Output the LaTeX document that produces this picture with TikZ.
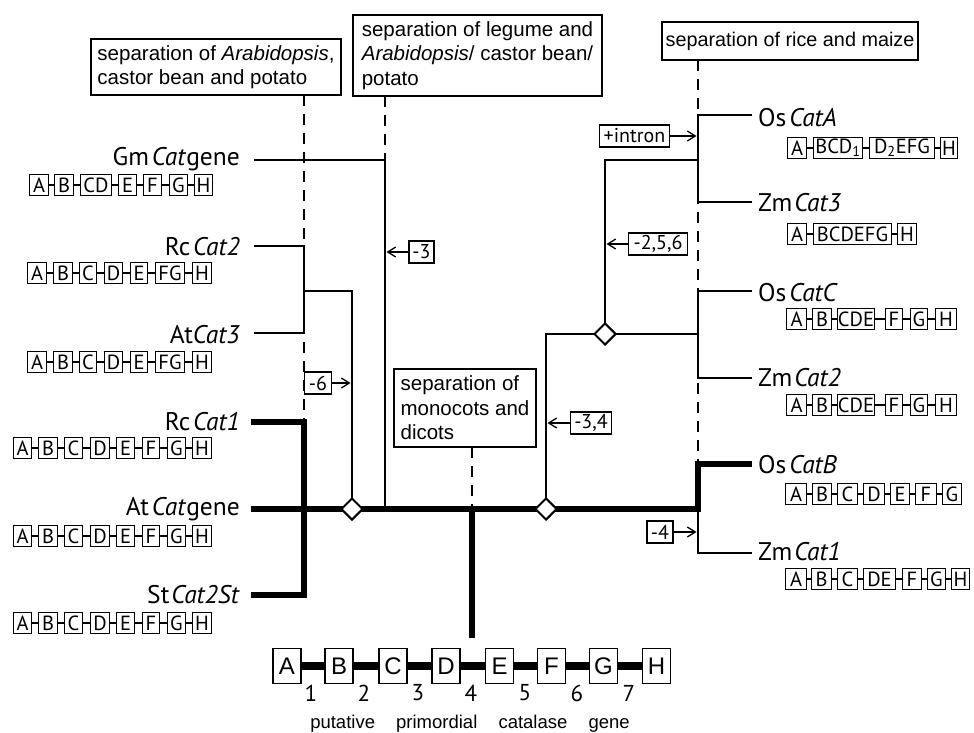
\documentclass[tikz,border=0pt]{standalone}
\usepackage{fontspec}
\setmainfont{Liberation Sans}
\newfontfamily\gfont{PT Sans}
\usetikzlibrary{arrows.meta,shapes.geometric,calc}
\tikzset{
  brline/.style={line width=2.5pt, line join=miter},
  trunk/.style={line width=6.5pt, line join=miter},
  sepline/.style={line width=1.1pt, dash pattern=on 11pt off 8pt},
  annobox/.style={draw, line width=1.4pt, inner sep=0pt, align=left, font=\fontsize{20.5}{24.5}\selectfont},
  genelab/.style={inner sep=0pt, font=\gfont\fontsize{25.5}{28}\selectfont},
  gbox/.style={draw, line width=1.3pt, inner sep=0pt, minimum height=21pt, font=\gfont\fontsize{20.5}{22}\selectfont},
  gline/.style={line width=1.3pt},
  evbox/.style={draw, line width=1.3pt, inner sep=0pt, minimum height=22pt, font=\gfont\fontsize{20}{22}\selectfont},
  evarrow/.style={line width=1.3pt, -{Straight Barb[length=8pt,width=10pt,line width=1.3pt]}},
  dnode/.style={diamond, draw, fill=white, line width=2pt, minimum size=22pt, inner sep=0pt},
  pbox/.style={draw, line width=1.5pt, minimum width=28pt, minimum height=35pt, inner sep=0pt, font=\fontsize{24}{28}\selectfont},
  pline/.style={line width=8pt},
  pnum/.style={inner sep=0pt, font=\gfont\fontsize{23}{26}\selectfont},
}
\newcommand\generow[3]{%
  \foreach \xa/\xb/\lab [count=\ii, remember=\ii as \jj (initially 0)] in {#3}{%
    \node[gbox, minimum width={(\xb-\xa-1)*1pt}] (#1-\ii) at ({(\xa+\xb)/2},#2) {\lab};
    \ifnum\ii>1 \draw[gline] (#1-\jj.east) -- (#1-\ii.west);\fi
  }%
}
\begin{document}
\begin{tikzpicture}[x=1pt,y=-1pt]
\fill[white] (0,0) rectangle (974,733);
\useasboundingbox (0,0) rectangle (974,733);

% annotation boxes
\node[annobox, minimum width=250pt, minimum height=56pt] (B1) at (216,67)
  {separation of \textit{Arabidopsis},\\castor bean and potato};
\node[annobox, minimum width=249pt, minimum height=81pt] (B2) at (477.5,55.5)
  {separation of legume and\\\textit{Arabidopsis}/ castor bean/\\potato};
\node[annobox, minimum width=256pt, minimum height=38pt, font=\fontsize{19.8}{24}\selectfont] (B3) at (790,41)
  {separation of rice and maize};
\node[annobox, minimum width=142pt, minimum height=78pt] (B4) at (465,408)
  {separation of\\monocots and\\dicots};

% coordinates
\coordinate (s1a) at (304,95);  \coordinate (s1b) at (304,422);
\coordinate (s2a) at (385,96);  \coordinate (s2b) at (385,160);
\coordinate (s3a) at (698,60);  \coordinate (s3b) at (698,464);
\coordinate (s4a) at (472,447); \coordinate (s4b) at (472,509);

% dashed separation lines
\draw[sepline] (s1a) -- (s1b);
\draw[sepline] (s2a) -- (s2b);
\draw[sepline] (s3a) -- (s3b);
\draw[sepline] (s4a) -- (s4b);

% diamonds (positions)
\coordinate (d1c) at (352,509);
\coordinate (d2c) at (546,509);
\coordinate (d3c) at (605,334);

% thin branches
\coordinate (gmS) at (254,160); \coordinate (gmT) at (385,160); \coordinate (gmB) at (385,509);
\draw[brline] (gmS) -- (gmT) -- (gmB);
\coordinate (rc2S) at (254,246); \coordinate (rc2T) at (304,246);
\coordinate (at3S) at (254,333); \coordinate (at3T) at (304,333);
\draw[brline] (rc2S) -- (rc2T) -- (at3T) -- (at3S);
\coordinate (j1) at (304,291); \coordinate (j1R) at (352,291);
\draw[brline] (j1) -- (j1R) -- (d1c);
\coordinate (d2T) at (546,334);
\draw[brline] (d2c) -- (d2T) -- (d3c);
\coordinate (jC) at (698,334);
\draw[brline] (d3c) -- (jC);
\coordinate (ocS) at (752,291); \coordinate (ocT) at (698,291);
\coordinate (z2S) at (752,378); \coordinate (z2T) at (698,378);
\draw[brline] (ocS) -- (ocT) -- (z2T) -- (z2S);
\coordinate (d3T) at (605,160); \coordinate (jA) at (698,160);
\draw[brline] (d3c) -- (d3T) -- (jA);
\coordinate (oaS) at (752,115); \coordinate (oaT) at (698,115);
\coordinate (z3S) at (752,202); \coordinate (z3T) at (698,202);
\draw[brline] (oaS) -- (oaT) -- (z3T) -- (z3S);
\coordinate (jB) at (698,509);
\coordinate (z1T) at (698,553); \coordinate (z1S) at (752,553);
\draw[brline] (jB) -- (z1T) -- (z1S);

% thick branches
\coordinate (rc1S) at (251,422); \coordinate (rc1T) at (304,422);
\coordinate (stS) at (251,595);  \coordinate (stT) at (304,595);
\draw[trunk] (rc1S) -- (rc1T) -- (stT) -- (stS);
\coordinate (mainL) at (251,509);
\coordinate (obT) at (698,464); \coordinate (obS) at (752,464);
\draw[trunk] (mainL) -- (jB) -- (obT) -- (obS);
\coordinate (rootT) at (472,509); \coordinate (rootB) at (472,638);
\draw[trunk] (rootT) -- (rootB);

% diamonds
\node[dnode] (d1) at (d1c) {};
\node[dnode] (d2) at (d2c) {};
\node[dnode] (d3) at (d3c) {};

% event labels
\node[evbox, minimum width=27pt] (ev6) at (318,383) {-6};
\coordinate (a6) at (350.5,383);
\draw[evarrow] (ev6.east) -- (a6);
\node[evbox, minimum width=25pt] (ev3) at (421.5,252) {-3};
\coordinate (a3) at (386.5,252);
\draw[evarrow] (ev3.west) -- (a3);
\node[evbox, minimum width=59pt] (ev256) at (658,244) {-2,5,6};
\coordinate (a256) at (606.5,244);
\draw[evarrow] (ev256.west) -- (a256);
\node[evbox, minimum width=70pt] (evin) at (634.5,136) {+intron};
\coordinate (ain) at (696.5,136);
\draw[evarrow] (evin.east) -- (ain);
\node[evbox, minimum width=41pt] (ev34) at (591,423) {-3,4};
\coordinate (a34) at (547.5,423);
\draw[evarrow] (ev34.west) -- (a34);
\node[evbox, minimum width=26pt] (ev4) at (660,532) {-4};
\coordinate (a4) at (696.5,532);
\draw[evarrow] (ev4.east) -- (a4);

% gene labels left
\node[genelab, anchor=base east] (gm) at (240,165.5) {Gm\hspace{3pt}\textit{Cat}gene};
\node[genelab, anchor=base east] (rc2) at (240,255.5) {Rc\hspace{3pt}\textit{Cat2}};
\node[genelab, anchor=base east] (at3) at (240,343.5) {At\textit{Cat3}};
\node[genelab, anchor=base east] (rc1) at (240,430.5) {Rc\hspace{3pt}\textit{Cat1}};
\node[genelab, anchor=base east] (atg) at (240,515.5) {At\hspace{3pt}\textit{Cat}gene};
\node[genelab, anchor=base east] (st) at (240,603.5) {St\hspace{2pt}\textit{Cat2St}};
% gene labels right
\node[genelab, anchor=base west] (osa) at (758,126.5) {Os\hspace{3pt}\textit{CatA}};
\node[genelab, anchor=base west] (zm3) at (758,211.5) {Zm\hspace{2pt}\textit{Cat3}};
\node[genelab, anchor=base west] (osc) at (758,301.5) {Os\hspace{3pt}\textit{CatC}};
\node[genelab, anchor=base west] (zm2) at (758,386.5) {Zm\hspace{2pt}\textit{Cat2}};
\node[genelab, anchor=base west] (osb) at (758,473.5) {Os\hspace{3pt}\textit{CatB}};
\node[genelab, anchor=base west] (zm1) at (758,560.5) {Zm\hspace{2pt}\textit{Cat1}};

% gene structures
\generow{gmr}{185}{29/49/A, 54/74/B, 80/112/CD, 118/137/E, 143/162/F, 169/188/G, 194/213/H}
\generow{rc2r}{273}{27/47/A, 53/73/B, 79/97/C, 104/123/D, 130/148/E, 155/185/FG, 192/212/H}
\generow{at3r}{362}{27/47/A, 53/73/B, 79/97/C, 104/123/D, 130/148/E, 155/185/FG, 192/212/H}
\generow{rc1r}{448}{13/32/A, 38/58/B, 64/83/C, 90/110/D, 116/135/E, 142/160/F, 167/186/G, 192/212/H}
\generow{atgr}{536}{13/32/A, 38/58/B, 64/83/C, 90/110/D, 116/135/E, 142/160/F, 167/186/G, 192/212/H}
\generow{str}{623}{13/32/A, 38/58/B, 64/83/C, 90/110/D, 116/135/E, 142/160/F, 167/186/G, 192/212/H}
\generow{osar}{148}{787/807/A, 813/863/BCD\textsubscript{1}, 869/935/D\textsubscript{2}EFG, 940/958/H}
\generow{zm3r}{234}{787/807/A, 813/892/BCDEFG, 897/917/H}
\generow{oscr}{319}{786/807/A, 812/832/B, 837/875/CDE, 885/903/F, 910/928/G, 935/957/H}
\generow{zm2r}{405}{786/807/A, 812/832/B, 837/875/CDE, 885/903/F, 910/928/G, 935/957/H}
\generow{osbr}{494}{785/807/A, 812/832/B, 837/858/C, 863/885/D, 890/910/E, 915/937/F, 942/962/G}
\generow{zm1r}{579}{785/807/A, 811/832/B, 837/858/C, 863/896/DE, 902/922/F, 927/946/G, 951/970/H}

% putative primordial gene
\node[pbox] (pA) at (287,666) {A};
\node[pbox] (pB) at (339,666) {B};
\node[pbox] (pC) at (393,666) {C};
\node[pbox] (pD) at (446,666) {D};
\node[pbox] (pE) at (499.5,666) {E};
\node[pbox] (pF) at (551.5,666) {F};
\node[pbox] (pG) at (603.5,666) {G};
\node[pbox] (pH) at (656.5,666) {H};
\draw[pline] (pA.east) -- (pB.west);
\draw[pline] (pB.east) -- (pC.west);
\draw[pline] (pC.east) -- (pD.west);
\draw[pline] (pD.east) -- (pE.west);
\draw[pline] (pE.east) -- (pF.west);
\draw[pline] (pF.east) -- (pG.west);
\draw[pline] (pG.east) -- (pH.west);
\node[pnum] (n1) at (311,693) {1};
\node[pnum] (n2) at (364,693) {2};
\node[pnum] (n3) at (418,693) {3};
\node[pnum] (n4) at (471,693) {4};
\node[pnum] (n5) at (525,693) {5};
\node[pnum] (n6) at (577,693) {6};
\node[pnum] (n7) at (629,693) {7};
\node[inner sep=0pt, anchor=base, font=\fontsize{18.5}{22}\selectfont] (ptxt) at (470,728)
  {putative\hspace{16pt} primordial\hspace{16pt} catalase\hspace{16pt} gene};
\end{tikzpicture}
\end{document}
